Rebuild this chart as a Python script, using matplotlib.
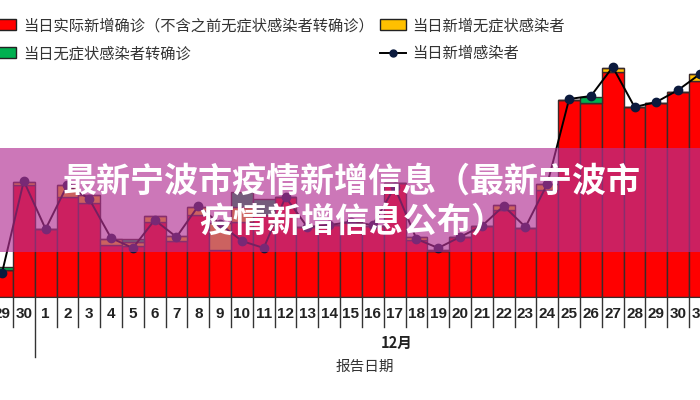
import matplotlib.pyplot as plt
import matplotlib.transforms as mtransforms
from matplotlib.patches import Patch, Rectangle
from matplotlib.lines import Line2D

plt.rcParams['font.family'] = ['Noto Sans CJK SC', 'DejaVu Sans']

# report dates: 11/29, 11/30, then 12/1 .. 12/31
days = ['29', '30'] + [str(d) for d in range(1, 32)]

# daily values
confirmed = [27, 112, 68, 100, 94, 52, 51, 75, 56, 82, 47, 75, 82, 100, 70,
             72, 75, 71, 114, 57, 46, 60, 71, 87, 69, 107, 197, 194, 225,
             190, 194, 205, 216]
asymptomatic = [0, 3, 0, 12, 8, 6, 4, 6, 5, 8, 27, 15, 0, 0, 0,
                0, 0, 0, 0, 3, 1, 0, 0, 5, 0, 6, 0, 0, 4,
                0, 0, 0, 7]
converted = [3, 0, 0, 0, 0, 0, 3, 0, 0, 0, 0, 15, 16, 0, 0,
             0, 0, 0, 0, 0, 0, 0, 0, 0, 0, 0, 0, 6, 0,
             0, 0, 0, 0]
new_infected = [24, 116, 68, 112, 98, 59, 49, 77, 60, 91, 73, 56, 49, 100, 70,
                72, 75, 72, 110, 58, 49, 60, 71, 91, 70, 113, 198, 201, 230,
                190, 195, 207, 223]

labels = ['当日实际新增确诊（不含之前无症状感染者转确诊）', '当日无症状感染者转确诊',
          '当日新增无症状感染者', '当日新增感染者']

red, yellow, green = '#ff0000', '#ffc000', '#00b050'
edge = '#3a2a2a'

fig = plt.figure(figsize=(7, 4), dpi=100)
ax = fig.add_axes([0, 103 / 400, 1, 297 / 400])

x = list(range(len(days)))
ax.bar(x, confirmed, width=1, color=red, edgecolor=edge, linewidth=1)
ax.bar(x, asymptomatic, width=1, bottom=confirmed, color=yellow, edgecolor=edge, linewidth=1)
bottom2 = [c + a for c, a in zip(confirmed, asymptomatic)]
ax.bar(x, converted, width=1, bottom=bottom2, color=green, edgecolor=edge, linewidth=1)
ax.plot(x, new_infected, color='black', lw=1.4, marker='o', ms=6,
        mfc='#0b1a3d', mec='#0b1a3d', zorder=3)

ax.set_xlim(-2 / 22, 700 / 22 - 2 / 22)
ax.set_ylim(0, 297)
ax.set_yticks([])
for s in ['top', 'left', 'right']:
    ax.spines[s].set_visible(False)
ax.spines['bottom'].set_color(edge)

ax.set_xticks(x, days)
ax.tick_params(axis='x', length=0, pad=7)
for t in ax.get_xticklabels():
    t.set_fontfamily('Liberation Sans')
    t.set_fontweight('bold')
    t.set_fontsize(11)
    t.set_color('#222222')

# category cell separators under the axis
trans = mtransforms.blended_transform_factory(ax.transData, ax.transAxes)
for i in range(len(days) + 1):
    b = i - 0.5
    depth = 60 if i == 2 else 30
    ax.plot([b, b], [0, -depth / 297], transform=trans, clip_on=False,
            color='#333333', lw=1)

fig.text(397 / 700, 1 - 343 / 400, '12月', ha='center', va='center',
         fontsize=10.5, fontweight='bold', color='#222222')
fig.text(365 / 700, 1 - 367 / 400, '报告日期', ha='center', va='center',
         fontsize=10.5, color='#333333')

handles = [Patch(fc=red, ec='#222222'), Patch(fc=green, ec='#222222'),
           Patch(fc=yellow, ec='#222222'),
           Line2D([], [], color='black', lw=1.4, marker='o', ms=5,
                  mfc='#0b1a3d', mec='#0b1a3d')]
fig.legend(handles, labels, ncol=2, loc='upper left',
           bbox_to_anchor=(-10 / 700, 1 - 17 / 400), frameon=False,
           fontsize=11, labelcolor='#333333', handlelength=1.7,
           handleheight=0.7, handletextpad=0.45, columnspacing=0.4,
           labelspacing=0.72, borderpad=0, borderaxespad=0)

# pink banner with title on top
fig.add_artist(Rectangle((0, 1 - 252 / 400), 1, 104 / 400, transform=fig.transFigure,
                         color=(178 / 255, 49 / 255, 147 / 255), alpha=0.66,
                         lw=0, zorder=5))
fig.text(0.502, 1 - 181 / 400, '最新宁波市疫情新增信息（最新宁波市', color='white',
         fontsize=24.5, fontweight='bold', ha='center', va='center', zorder=6)
fig.text(0.503, 1 - 221 / 400, '疫情新增信息公布）', color='white',
         fontsize=24.5, fontweight='bold', ha='center', va='center', zorder=6)

fig.savefig('out.png', dpi=100)
